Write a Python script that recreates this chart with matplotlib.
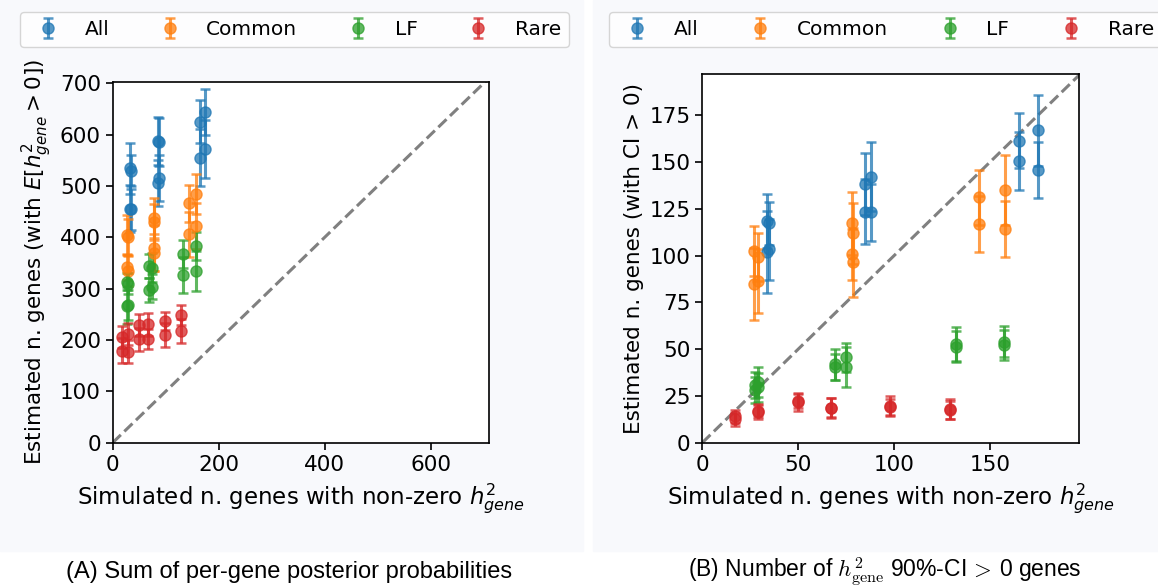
import numpy as np
import matplotlib
matplotlib.use("Agg")
import matplotlib.pyplot as plt
from matplotlib.patches import Rectangle

# categories and colours
categories = ["All", "Common", "LF", "Rare"]
colors = ["tab:blue", "tab:orange", "tab:green", "tab:red"]

# simulated number of genes with non-zero h2 (shared by both panels)
x_all = [33.5, 33.5, 35, 35, 85, 85, 88, 88, 165, 165, 175, 175]
x_common = [27, 27, 29, 29, 78, 78, 78.5, 78.5, 144, 144, 158, 158]
x_lf = [27.5, 27.5, 29, 29, 69, 69, 75, 75, 132, 132, 157, 157]
x_rare = [17, 17, 29, 29, 50, 50, 67, 67, 98, 98, 129, 129]

# (A) sum of per-gene posterior probabilities
a_all = [534, 456, 530, 455, 587.6, 505, 585, 515, 625, 555, 643.5, 572]
a_all_err = [50, 46, 30, 40, 47, 45, 47, 45, 42, 56, 44.5, 57]
a_common = [404.6, 341.6, 400, 335, 437, 378.6, 430, 370, 466.3, 406, 483.8, 422.7]
a_common_err = [39, 25, 36, 30, 39, 45, 35, 36, 36, 44, 39, 45]
a_lf = [313.6, 266.3, 310, 268, 344, 297.4, 341, 303.9, 367.5, 326.6, 383, 335]
a_lf_err = [17, 36, 20, 30, 24, 23, 28, 25, 27, 35, 28, 39]
a_rare = [205.3, 179.2, 211.7, 177.2, 229.3, 201.4, 230.6, 202, 237.6, 209.8, 248.7, 217.6]
a_rare_err = [21, 24, 21, 22, 21, 22, 22, 20, 17.5, 24, 19, 23]

# (B) number of genes with 90%-CI > 0
b_all = [118.6, 102, 117.2, 103.3, 138, 123.4, 142, 123.1, 161.3, 150.5, 166.9, 145.7]
b_all_err = [14.5, 21.8, 11.6, 16.3, 16.6, 17.4, 18.4, 15.3, 14.6, 15.4, 19, 15]
b_common = [102.5, 84.7, 99.4, 86.4, 117.2, 100.7, 111.9, 96.4, 131.1, 116.9, 135, 114.2]
b_common_err = [13.3, 19.4, 12.8, 17.2, 16.9, 13.7, 16.3, 18.3, 14.6, 15, 18.7, 14.8]
b_lf = [31, 28, 32.5, 29.5, 42, 40.5, 45.7, 40.7, 52.8, 51.4, 54, 52.3]
b_lf_err = [7, 7, 8.2, 8, 8.3, 7, 7.8, 10.7, 9.2, 8.5, 8.4, 8.1]
b_rare = [14, 12.5, 16.4, 17, 22.3, 21.5, 18.5, 18.8, 19.7, 19, 18.1, 17.5]
b_rare_err = [3.6, 3.4, 3.9, 3.5, 4, 4.3, 5.5, 5, 5, 4.5, 5.4, 4.8]

xs = [x_all, x_common, x_lf, x_rare]
panel_a = [(a_all, a_all_err), (a_common, a_common_err), (a_lf, a_lf_err), (a_rare, a_rare_err)]
panel_b = [(b_all, b_all_err), (b_common, b_common_err), (b_lf, b_lf_err), (b_rare, b_rare_err)]

W, H = 1158, 588
fig = plt.figure(figsize=(W / 100, H / 100), dpi=100, facecolor="white")

# light panel backgrounds
fig.patches.append(Rectangle((0, 1 - 551 / H), 583 / W, 551 / H, transform=fig.transFigure,
                             color="#f8f9fc", zorder=-1))
fig.patches.append(Rectangle((593 / W, 1 - 551 / H), 1 - 593 / W, 551 / H, transform=fig.transFigure,
                             color="#f8f9fc", zorder=-1))

ax1 = fig.add_axes([112.7 / W, 1 - 442.7 / H, 376.3 / W, 361 / H])
ax2 = fig.add_axes([702.3 / W, 1 - 442.7 / H, 377 / W, 368.7 / H])

fs = 15.5


def draw(ax, data, lim_x, lim_y):
    handles = []
    for x, (y, err), c, lab in zip(xs, data, colors, categories):
        h = ax.errorbar(x, y, yerr=err, fmt="o", color=c, alpha=0.75, markersize=8,
                        elinewidth=2.2, capsize=3.5, capthick=1.8, label=lab)
        handles.append(h)
    ax.plot([0, 1000], [0, 1000], "--", color="gray", lw=2.2, zorder=0)
    ax.set_xlim(0, lim_x)
    ax.set_ylim(0, lim_y)
    ax.set_xlabel(r"Simulated n. genes with non-zero $h^2_{gene}$", fontsize=16.5, labelpad=5)
    ax.tick_params(labelsize=fs, width=1.2, length=5)
    for s in ax.spines.values():
        s.set_linewidth(1.2)
    return handles


h1 = draw(ax1, panel_a, 710, 703)
ax1.set_xticks([0, 200, 400, 600])
ax1.set_yticks(np.arange(0, 701, 100))
ax1.set_ylabel(r"Estimated n. genes (with $E[h^2_{gene} > 0]$)", fontsize=fs)

h2 = draw(ax2, panel_b, 196.5, 197)
ax2.set_xticks([0, 50, 100, 150])
ax2.set_yticks(np.arange(0, 176, 25))
ax2.set_ylabel("Estimated n. genes (with CI > 0)", fontsize=fs)

for h, x0, w in [(h1, 20, 549), (h2, 609, 553)]:
    fig.legend(h, categories, loc="upper left", bbox_to_anchor=(x0 / W, 1 - 12 / H, w / W, 0),
               mode="expand", ncol=4, fontsize=14.5, borderaxespad=0)

fig.text(289 / W, 1 - 572 / H, "(A) Sum of per-gene posterior probabilities",
         ha="center", va="center", fontsize=17, family="Liberation Sans")
fig.text(885 / W, 1 - 572 / H, r"(B) Number of $h^2_{\mathrm{gene}}$ 90%-CI$\,>\,$0 genes",
         ha="center", va="center", fontsize=16.5, family="Liberation Sans", math_fontfamily="cm")

fig.savefig("out.png", dpi=100, facecolor="white")
